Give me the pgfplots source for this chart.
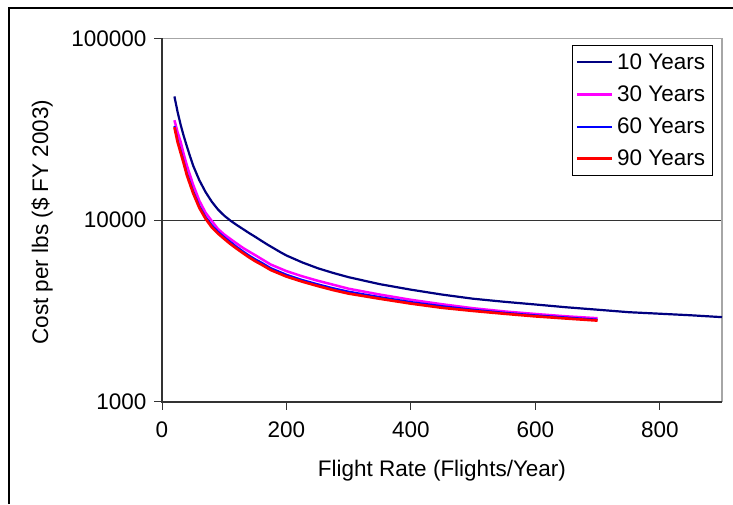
\documentclass[border=0pt]{standalone}
\usepackage{pgfplots}
\pgfplotsset{compat=1.18}
\usepackage{fontspec}
\setmainfont{Liberation Sans}
\definecolor{navy}{RGB}{0,0,128}
\definecolor{mag}{RGB}{255,0,255}
\definecolor{blu}{RGB}{0,0,255}
\definecolor{rd}{RGB}{255,0,0}
\pgfplotstableread{
x y
20 48000
25 39500
30 33500
35 29000
40 25500
45 22500
50 20000
60 16600
70 14300
80 12650
90 11450
100 10600
110 9950
120 9420
130 8950
140 8500
150 8100
160 7700
170 7330
180 7000
190 6680
200 6400
225 5870
250 5450
275 5130
300 4860
350 4450
400 4150
450 3900
500 3700
550 3560
600 3440
650 3320
700 3220
750 3120
800 3060
850 3000
900 2930
}\tenyr
\pgfplotstableread{
x y
20 35500
25 30500
30 27000
35 23000
40 20000
50 15700
60 12800
70 11000
80 9900
90 8950
100 8350
110 7880
120 7450
130 7050
140 6720
150 6420
160 6120
175 5700
200 5250
225 4920
250 4650
275 4420
300 4200
350 3900
400 3650
450 3450
500 3280
550 3150
600 3050
650 2960
700 2890
}\thirtyyr
\pgfplotstableread{
x y
20 33000
25 27700
30 24200
35 21000
40 18200
50 14500
60 12000
70 10450
80 9400
90 8650
100 8080
110 7600
120 7150
130 6750
140 6400
150 6100
160 5850
175 5450
200 5020
225 4700
250 4450
275 4230
300 4050
350 3780
400 3550
450 3370
500 3220
550 3100
600 3000
650 2920
700 2840
}\sixtyyr
\pgfplotstableread{
x y
20 32500
25 27000
30 23500
35 20500
40 17700
50 14100
60 11700
70 10200
80 9150
90 8450
100 7900
110 7400
120 6980
130 6600
140 6250
150 5950
160 5700
175 5320
200 4900
225 4600
250 4350
275 4130
300 3950
350 3700
400 3480
450 3300
500 3170
550 3060
600 2960
650 2880
700 2805
}\ninetyyr
\begin{document}
\begin{tikzpicture}[x=1pt,y=1pt]
\path[use as bounding box] (0,0) rectangle (733,504);
\draw[black, line width=1.3pt] (9,0) -- (9,496) -- (733,496);
\begin{axis}[
  at={(162pt,102pt)}, anchor=south west,
  scale only axis, width=560pt, height=363.5pt,
  xmin=0, xmax=900, ymode=log, ymin=1000, ymax=100000,
  xtick={0,200,400,600,800},
  ytick={1000,10000,100000}, yticklabels={1000,10000,100000},
  yminorticks=false,
  xtick pos=left, ytick pos=left,
  tick align=outside, major tick length=8pt,
  tick style={black!80, line width=1pt},
  axis line style={draw=none},
  /pgf/number format/assume math mode=true,
  ticklabel style={font=\fontsize{22.5}{27}\selectfont},
  xticklabel style={yshift=-8pt},
  yticklabel style={xshift=-4pt},
  xlabel={Flight Rate (Flights/Year)},
  ylabel={Cost per lbs (\$ FY 2003)},
  label style={font=\fontsize{22.5}{27}\selectfont},
  xlabel style={at={(axis description cs:0.5,-0.19)}, anchor=center},
  ylabel style={at={(axis description cs:-0.214,0.495)}, anchor=center},
  legend style={at={(axis description cs:0.732,0.982)}, anchor=north west,
    draw=black, line width=1pt, font=\fontsize{22.5}{27}\selectfont,
    inner xsep=3pt, inner ysep=6pt, row sep=11pt,
    nodes={inner xsep=4pt}},
  legend cell align=left,
  legend image code/.code={\draw[#1] (0pt,0pt) -- (35pt,0pt);},
  clip=false,
]
\draw[black!80, line width=1.2pt] (rel axis cs:0,0.5) -- (rel axis cs:1,0.5);
\draw[gray!70, line width=1.5pt] (rel axis cs:0,1) -- (rel axis cs:1,1) -- (rel axis cs:1,0);
\draw[black!80, line width=1.3pt] (rel axis cs:0,1) -- (rel axis cs:0,0) -- (rel axis cs:1,0);
\addplot[navy, line width=2.2pt] table[x=x,y=y] {\tenyr};
\addlegendentry{10 Years}
\addplot[mag, line width=2.5pt] table[x=x,y=y] {\thirtyyr};
\addlegendentry{30 Years}
\addplot[blu, line width=2pt] table[x=x,y=y] {\sixtyyr};
\addlegendentry{60 Years}
\addplot[rd, line width=2.7pt] table[x=x,y=y] {\ninetyyr};
\addlegendentry{90 Years}
\end{axis}
\end{tikzpicture}
\end{document}
